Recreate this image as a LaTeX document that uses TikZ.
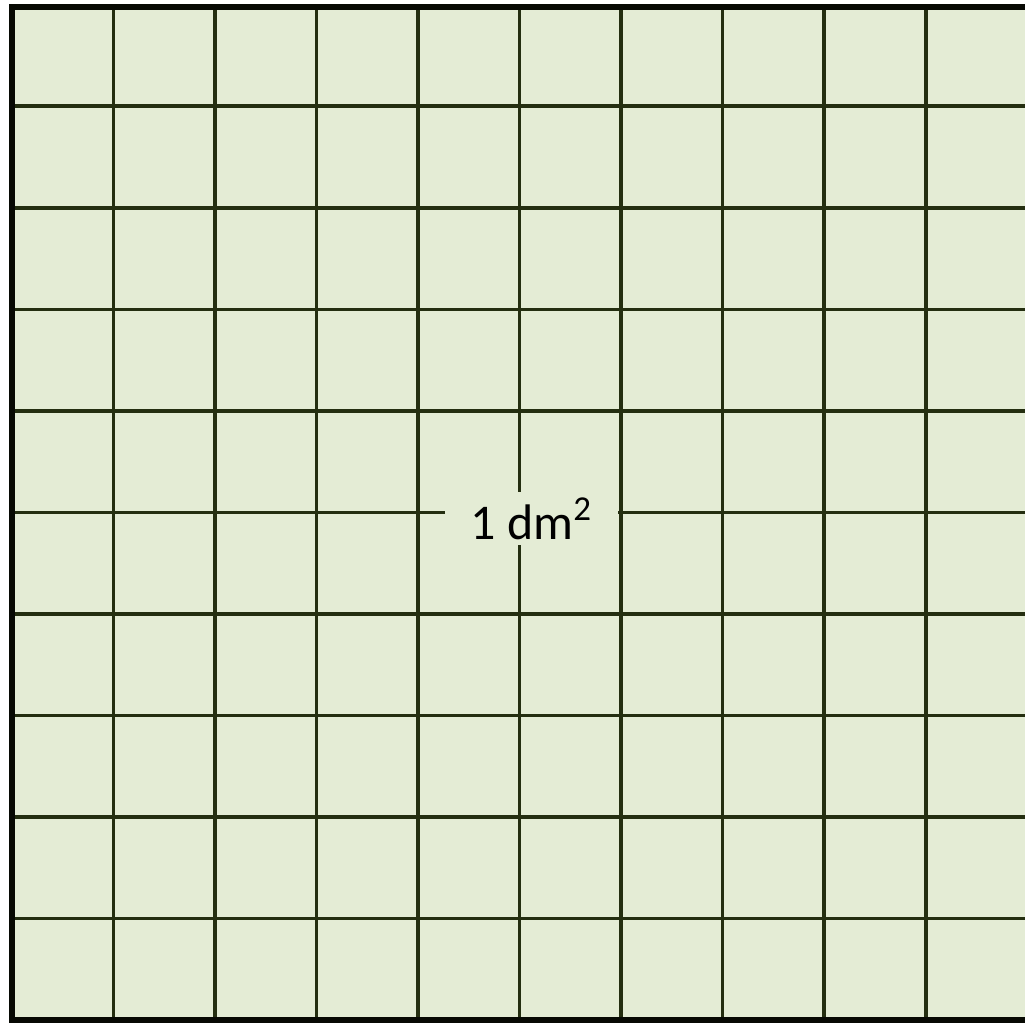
\documentclass[tikz,border=0pt]{standalone}
\usepackage{fontspec}
\setmainfont{Carlito}
\definecolor{paper}{RGB}{228,236,213}
\definecolor{gridline}{RGB}{36,46,16}

\begin{document}
\begin{tikzpicture}
    [gridrule/.style={draw=gridline, line width=1.1pt},
     outerrule/.style={draw=black!80!gridline, line width=1.7pt},
     every node/.style={fill=paper, inner xsep=0.25cm, inner ysep=0.06cm, font=\fontsize{14}{16}\selectfont}]
  \useasboundingbox (-0.118,-0.030) rectangle (9.980,10.049);
  \fill[paper] (0,0) rectangle (9.980,9.98);

  \foreach \i in {1,...,9} {
    \draw[gridrule] (\i,0) -- (\i,9.98);
    \draw[gridrule] (0,\i) -- (9.980,\i);
  }
  \draw[outerrule] (9.980,9.98) -- (0,9.98) -- (0,0) -- (9.980,0);

  \node (area) at (5.12,4.94) {1 dm\textsuperscript{2}};
\end{tikzpicture}
\end{document}
